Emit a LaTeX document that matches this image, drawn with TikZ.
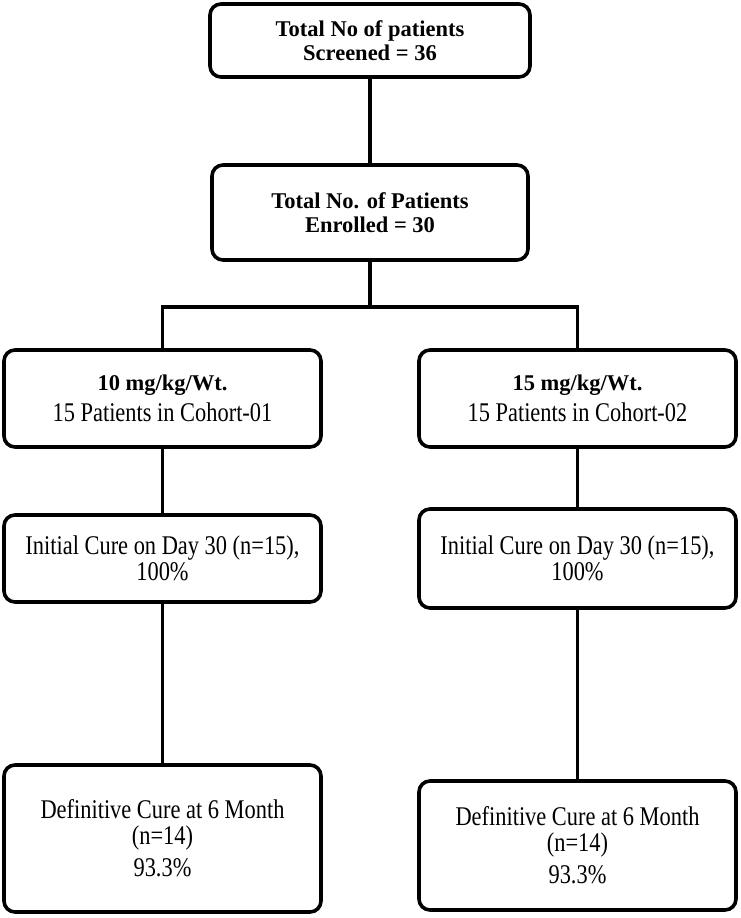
\documentclass[tikz,border=0pt]{standalone}
\usepackage{fontspec}
\setmainfont{Liberation Serif}
\newfontfamily\narrowserif[FakeStretch=0.83]{Liberation Serif}
\usetikzlibrary{positioning}
\tikzset{
    stage/.style={draw, line width=3.6pt, rounded corners=11pt, align=center,
        inner sep=0pt, font=\narrowserif\fontsize{27}{26}\selectfont},
    headstage/.style={stage, font=\rmfamily\bfseries\fontsize{22.5}{24}\selectfont},
    link/.style={line width=3.6pt},
}
\newcommand{\dose}[1]{{\rmfamily\bfseries\fontsize{22.5}{24}\selectfont #1}}

\begin{document}
\begin{tikzpicture}[x=1pt, y=-1pt]
            \useasboundingbox (0,0) rectangle (740,918);
            \node[headstage, minimum width=320pt, minimum height=73pt] (screened) at (370,40.5)
                {Total No of patients\\Screened = 36};
            \node[headstage, minimum width=316pt, minimum height=95pt] (enrolled) at (370,212.5)
                {Total No. of Patients\\Enrolled = 30};
            \node[stage, minimum width=317pt, minimum height=97pt] (cohortA) at (162.5,398.5)
                {\dose{10 mg/kg/Wt.}\\[5pt]15 Patients in Cohort-01};
            \node[stage, minimum width=317pt, minimum height=97pt] (cohortB) at (577.5,398.5)
                {\dose{15 mg/kg/Wt.}\\[5pt]15 Patients in Cohort-02};
            \node[stage, minimum width=317pt, minimum height=87pt] (initialA) at (162.5,558.5)
                {Initial Cure on Day 30 (n=15),\\100\%};
            \node[stage, minimum width=317pt, minimum height=99pt] (initialB) at (577.5,558.5)
                {Initial Cure on Day 30 (n=15),\\100\%};
            \node[stage, minimum width=317pt, minimum height=147pt] (definitiveA) at (162.5,838.5)
                {Definitive Cure at 6 Month\\(n=14)\\[6pt]93.3\%};
            \node[stage, minimum width=317pt, minimum height=129pt] (definitiveB) at (577.5,845.5)
                {Definitive Cure at 6 Month\\(n=14)\\[6pt]93.3\%};
            \coordinate (split) at (370,307);
            % connectors
            \draw[link] (screened) -- (enrolled);
            \draw[link] (enrolled) -- (split);
            \draw[link] (cohortA.north) |- (split) -| (cohortB.north);
            \draw[link] (cohortA) -- (initialA);
            \draw[link] (cohortB) -- (initialB);
            \draw[link] (initialA) -- (definitiveA);
            \draw[link] (initialB) -- (definitiveB);
        \end{tikzpicture}
\end{document}
